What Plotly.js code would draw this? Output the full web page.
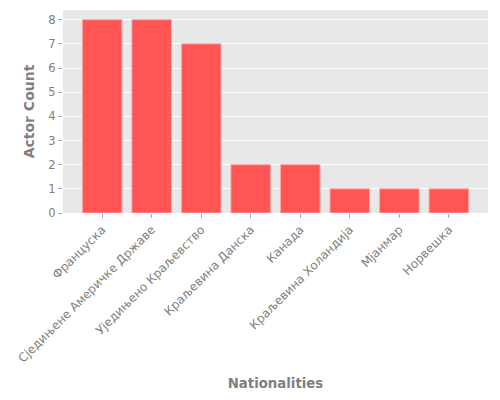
<!DOCTYPE html>
<html>
<head>
<meta charset="utf-8">
<script src="https://cdn.plot.ly/plotly-3.0.1.min.js"></script>
<style>
  html, body { margin: 0; padding: 0; background: #fff; }
  #chart { width: 500px; height: 400px; }
</style>
</head>
<body>
<div id="chart"></div>
<script>
// nationalities and how many actors come from each
var nationalities = ['Француска', 'Сједињене Америчке Државе', 'Уједињено Краљевство',
  'Краљевина Данска', 'Канада', 'Краљевина Холандија', 'Мјанмар', 'Норвешка'];
var actorCounts = [8, 8, 7, 2, 2, 1, 1, 1];

var trace = {
  x: nationalities,
  y: actorCounts,
  type: 'bar',
  width: 0.8,
  marker: {
    color: '#ff5555',
    line: { color: 'rgba(255,170,170,1)', width: 1 }
  },
  hoverinfo: 'x+y'
};

var layout = {
  width: 500,
  height: 400,
  margin: { l: 63, r: 12, t: 10, b: 187 },
  paper_bgcolor: '#ffffff',
  plot_bgcolor: '#e8e8e8',
  font: { family: 'DejaVu Sans', color: '#777777', size: 11 },
  showlegend: false,
  bargap: 0.2,
  xaxis: {
    range: [-0.79, 7.79],
    tickangle: -45,
    showgrid: false,
    zeroline: false,
    ticks: 'outside',
    ticklen: 4,
    tickcolor: '#aaaaaa',
    tickfont: { size: 12, color: '#808080' },
    title: {
      text: '<b>Nationalities</b>',
      font: { size: 13.3, color: '#808080' },
      standoff: 14
    }
  },
  yaxis: {
    range: [0, 8.4],
    dtick: 1,
    showgrid: true,
    gridcolor: '#ffffff',
    gridwidth: 1,
    zeroline: false,
    ticks: 'outside',
    ticklen: 4,
    tickcolor: '#aaaaaa',
    tickfont: { size: 11.5, color: '#808080' },
    title: {
      text: '<b>Actor Count</b>',
      font: { size: 14, color: '#808080' },
      standoff: 10
    }
  }
};

Plotly.newPlot('chart', [trace], layout, { displayModeBar: false });
</script>
</body>
</html>
